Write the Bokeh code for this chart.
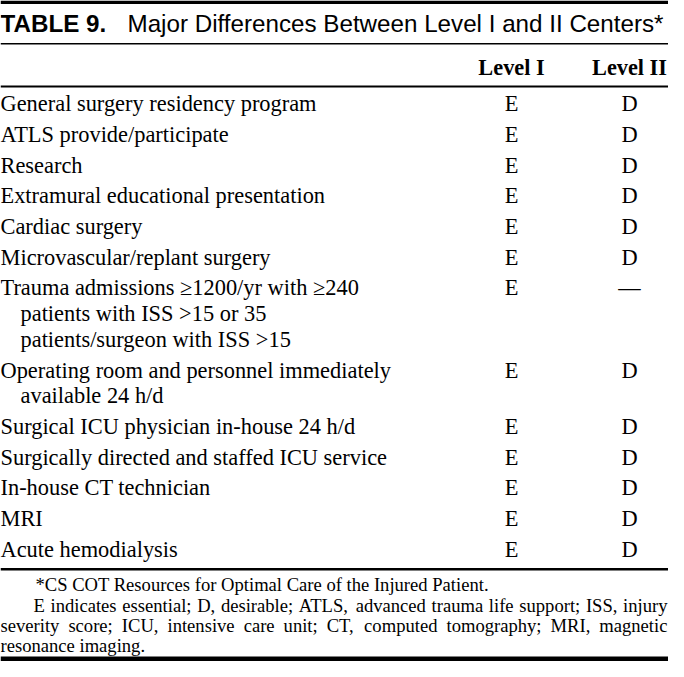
from bokeh.plotting import figure
from bokeh.models import Range1d, ColumnDataSource
from bokeh.core.properties import value
from bokeh.embed import file_html
from bokeh.resources import INLINE

# ---------------- data ----------------
title_label = "TABLE 9."
title_text = "Major Differences Between Level I and II Centers*"
col_headers = ["Level I", "Level II"]

row_labels = [
    ["General surgery residency program"],
    ["ATLS provide/participate"],
    ["Research"],
    ["Extramural educational presentation"],
    ["Cardiac surgery"],
    ["Microvascular/replant surgery"],
    ["Trauma admissions \u22651200/yr with \u2265240",
     "patients with ISS >15 or 35",
     "patients/surgeon with ISS >15"],
    ["Operating room and personnel immediately", "available 24 h/d"],
    ["Surgical ICU physician in-house 24 h/d"],
    ["Surgically directed and staffed ICU service"],
    ["In-house CT technician"],
    ["MRI"],
    ["Acute hemodialysis"],
]
level_1 = ["E", "E", "E", "E", "E", "E", "E", "E", "E", "E", "E", "E", "E"]
level_2 = ["D", "D", "D", "D", "D", "D", "\u2014", "D", "D", "D", "D", "D", "D"]

footnote_1 = "*CS COT Resources for Optimal Care of the Injured Patient."
footnote_2_lines = [
    "E indicates essential; D, desirable; ATLS, advanced trauma life support; ISS, injury",
    "severity score; ICU, intensive care unit; CT, computed tomography; MRI, magnetic",
    "resonance imaging.",
]

# ---------------- layout (1 data unit = 1 screen pixel) ----------------
FIG_W, FIG_H = 668, 661
RIGHT = 667

SERIF = "Liberation Serif"
SANS = "Liberation Sans"

p = figure(width=FIG_W, height=FIG_H, output_backend="svg", toolbar_location=None,
           x_range=Range1d(0, FIG_W), y_range=Range1d(FIG_H, 0),
           min_border=0, min_border_left=0, min_border_right=0,
           min_border_top=0, min_border_bottom=0)
p.axis.visible = False
p.grid.visible = False
p.outline_line_color = None
p.background_fill_color = "white"
p.border_fill_color = "white"

# rules
rules = dict(left=[0, 0, 0, 0, 0], right=[FIG_W] * 5,
             top=[0, 42.5, 85, 567.5, 656], bottom=[3.5, 44, 87, 570, 661])
p.quad(source=ColumnDataSource(rules), left="left", right="right", top="top",
       bottom="bottom", fill_color="black", line_color=None)

def put(x, y, txt, font, size, style="normal", align="left"):
    # compensate the baseline offset of the svg text renderer
    yy = y - 0.37 * size
    p.text(x=[x], y=[yy], text=[txt], text_font=value(font),
           text_font_size="%.2fpx" % size,
           text_font_style=style, text_align=align, text_baseline="alphabetic",
           text_color="black")

# title
put(0, 32, title_label, SANS, 24.2, "bold")
put(127, 32, title_text, SANS, 24.2)

# headers
COL_X = [511, 629]
for cx, h in zip(COL_X, col_headers):
    put(cx, 75, h, SERIF, 22.3, "bold", "center")

# body
BODY = 22.4
ROW_GAP = 30.7
LINE_GAP = 25.7
y = 105 + 6.5
for lines, v1, v2 in zip(row_labels, level_1, level_2):
    put(COL_X[0], y, v1, SERIF, BODY, align="center")
    put(COL_X[1], y, v2, SERIF, BODY, align="center")
    for i, ln in enumerate(lines):
        put(0 if i == 0 else 20, y + i * LINE_GAP, ln, SERIF, BODY)
    y += (len(lines) - 1) * LINE_GAP + ROW_GAP

# footnotes (Times metrics for justification)
TW = {' ': 250, ',': 250, '.': 250, ';': 278, '*': 500, '/': 278, '-': 333,
      'A': 722, 'B': 667, 'C': 667, 'D': 722, 'E': 611, 'F': 556, 'G': 722, 'H': 722,
      'I': 333, 'J': 389, 'K': 722, 'L': 611, 'M': 889, 'N': 722, 'O': 722, 'P': 556,
      'Q': 722, 'R': 667, 'S': 556, 'T': 611, 'U': 722, 'V': 722, 'W': 944, 'X': 722,
      'Y': 722, 'Z': 611,
      'a': 444, 'b': 500, 'c': 444, 'd': 500, 'e': 444, 'f': 333, 'g': 500, 'h': 500,
      'i': 278, 'j': 278, 'k': 500, 'l': 278, 'm': 778, 'n': 500, 'o': 500, 'p': 500,
      'q': 500, 'r': 333, 's': 389, 't': 278, 'u': 500, 'v': 500, 'w': 722, 'x': 500,
      'y': 500, 'z': 444}

FN = 18.6
def word_w(wd):
    return sum(TW.get(c, 500) for c in wd) / 1000.0 * FN

def justify(line, x0, x1, yb):
    words = line.split(" ")
    widths = [word_w(w) for w in words]
    gap = (x1 - x0 - sum(widths)) / (len(words) - 1)
    x = x0
    for w, wd in zip(words, widths):
        put(x, yb, w, SERIF, FN)
        x += wd + gap

put(35, 591, footnote_1, SERIF, FN)
justify(footnote_2_lines[0], 33, RIGHT, 611.5)
justify(footnote_2_lines[1], 0, RIGHT, 632)
put(0, 651.5, footnote_2_lines[2], SERIF, FN)

open("out.html", "w").write(file_html(p, INLINE))
